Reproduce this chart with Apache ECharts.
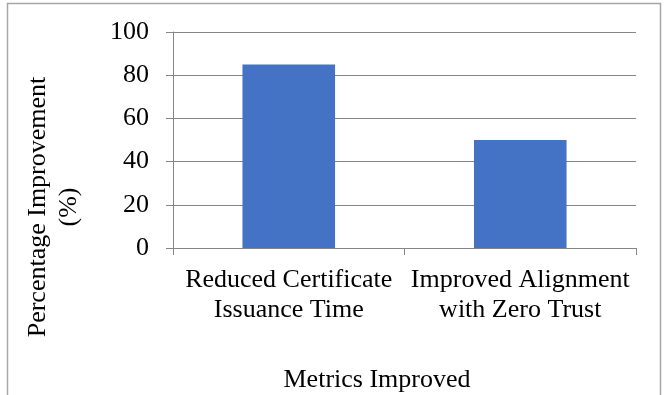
<!DOCTYPE html>
<html>
<head>
<meta charset="utf-8">
<script src="https://cdn.jsdelivr.net/npm/echarts@6/dist/echarts.min.js"></script>
<style>
  html, body { margin: 0; padding: 0; background: #fff; }
  #chart { width: 668px; height: 395px; }
</style>
</head>
<body>
<div id="chart"></div>
<script>
// Metrics and their percentage improvement
const categories = ['Reduced Certificate\nIssuance Time', 'Improved Alignment\nwith Zero Trust'];
const improvement = [85, 50];
const yTicks = { min: 0, max: 100, interval: 20 };
const xTitle = 'Metrics Improved';
const yTitle = 'Percentage Improvement\n(%)';

const FONT = '"Liberation Serif", "Times New Roman", serif';
const GRAY = '#868686';

const chart = echarts.init(document.getElementById('chart'), null, { renderer: 'canvas' });
chart.setOption({
  animation: false,
  backgroundColor: '#fff',
  grid: { left: 173, right: 32, top: 32, bottom: 147, containLabel: false },
  xAxis: {
    type: 'category',
    data: categories,
    axisLine: { lineStyle: { color: GRAY, width: 1 } },
    axisTick: { show: true, length: 7, lineStyle: { color: GRAY } },
    axisLabel: {
      color: '#000', fontFamily: FONT, fontSize: 26, lineHeight: 30,
      margin: 17, interval: 0
    }
  },
  yAxis: {
    type: 'value',
    min: yTicks.min, max: yTicks.max, interval: yTicks.interval,
    axisLine: { show: true, lineStyle: { color: GRAY, width: 1 } },
    axisTick: { show: true, length: 7, lineStyle: { color: GRAY } },
    splitLine: { show: true, lineStyle: { color: GRAY, width: 1 } },
    axisLabel: { color: '#000', fontFamily: FONT, fontSize: 26, margin: 24 }
  },
  series: [{
    type: 'bar',
    data: improvement,
    barWidth: '40%',
    itemStyle: { color: '#4472C4' }
  }],
  graphic: [
    {
      type: 'rect',
      shape: { x: 7.5, y: 3.5, width: 653, height: 420 },
      style: { fill: 'none', stroke: '#a6a6a6', lineWidth: 1.5 },
      silent: true
    },
    {
      type: 'text',
      x: 377, y: 380,
      style: {
        text: xTitle, fontFamily: FONT, fontSize: 26, fill: '#000',
        align: 'center', verticalAlign: 'middle'
      }
    },
    {
      type: 'text',
      x: 54, y: 207,
      rotation: Math.PI / 2,
      style: {
        text: yTitle, fontFamily: FONT, fontSize: 26, lineHeight: 31, fill: '#000',
        align: 'center', verticalAlign: 'middle'
      }
    }
  ]
});
</script>
</body>
</html>
